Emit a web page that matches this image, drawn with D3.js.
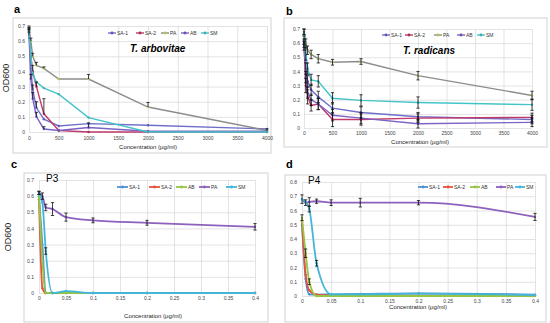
<!DOCTYPE html>
<html>
<head>
<meta charset="utf-8">
<script src="https://cdn.jsdelivr.net/npm/d3@7"></script>
<style>
  body { margin: 0; background: #fff; }
  svg { font-family: 'Liberation Sans', Arial, sans-serif; }
  .grid line { stroke: #dcdcdc; stroke-width: 0.8; }
  .grid .domain { display: none; }
  .tick text { fill: #444; font-size: 5px; }
  .frame { fill: none; stroke: #d2d2d2; stroke-width: 1; }
</style>
</head>
<body>
<svg width="550" height="323"></svg>
<script>
// concentrations (x values)
const concAB = [0, 31.25, 62.5, 125, 250, 500, 1000, 2000, 4000];
const concCD = [0, 0.00625, 0.0125, 0.025, 0.05, 0.1, 0.2, 0.4];

// tick labels
const ticksXAB = [0, 500, 1000, 1500, 2000, 2500, 3000, 3500, 4000];
const ticksXCD = [0, 0.05, 0.1, 0.15, 0.2, 0.25, 0.3, 0.35, 0.4];
const ticksY07 = [0, 0.1, 0.2, 0.3, 0.4, 0.5, 0.6, 0.7];
const ticksY08 = [0, 0.1, 0.2, 0.3, 0.4, 0.5, 0.6, 0.7, 0.8];

const namesAB = ['SA-1', 'SA-2', 'PA', 'AB', 'SM'];
const namesCD = ['SA-1', 'SA-2', 'AB', 'PA', 'SM'];

// a: T. arbovitae (upper error only)
const arbSA1 = [0.66, 0.42, 0.28, 0.16, 0.085, 0.04, 0.055, 0.045, 0.02];
const arbSA2 = [0.67, 0.5, 0.4, 0.3, 0.12, 0.01, 0, 0, 0];
const arbPA = [0.68, 0.6, 0.5, 0.44, 0.42, 0.35, 0.35, 0.165, 0.01];
const arbAB = [0.64, 0.35, 0.22, 0.1, 0.02, 0.01, 0.03, 0.005, 0.005];
const arbSM = [0.67, 0.5, 0.38, 0.33, 0.29, 0.25, 0.095, 0, 0];
const arbSA1Err = [0.02, 0, 0.03, 0.04, 0, 0, 0, 0, 0];
const arbSA2Err = [0.01, 0, 0.04, 0.03, 0.1, 0, 0, 0, 0];
const arbPAErr = [0.02, 0.02, 0.02, 0.02, 0.01, 0, 0.03, 0.03, 0.01];
const arbABErr = [0.02, 0.03, 0.04, 0.03, 0.015, 0, 0.03, 0, 0];
const arbSMErr = [0.02, 0, 0, 0, 0, 0, 0, 0, 0];

// b: T. radicans
const radSA1 = [0.62, 0.42, 0.33, 0.27, 0.22, 0.14, 0.11, 0.08, 0.06];
const radSA2 = [0.6, 0.3, 0.22, 0.16, 0.17, 0.06, 0.06, 0.07, 0.075];
const radPA = [0.68, 0.6, 0.55, 0.52, 0.49, 0.465, 0.47, 0.37, 0.23];
const radAB = [0.58, 0.36, 0.25, 0.2, 0.17, 0.09, 0.07, 0.03, 0.04];
const radSM = [0.68, 0.52, 0.42, 0.34, 0.33, 0.21, 0.195, 0.18, 0.165];
const radSA1Err = [0.03, 0.04, 0.04, 0.04, 0.04, 0.04, 0.04, 0.03, 0.03];
const radSA2Err = [0.03, 0.05, 0.05, 0.04, 0.04, 0.05, 0.04, 0.03, 0.03];
const radPAErr = [0.02, 0.03, 0.03, 0.03, 0.03, 0.02, 0.02, 0.03, 0.03];
const radABErr = [0.03, 0.04, 0.04, 0.04, 0.04, 0.04, 0.04, 0.03, 0.03];
const radSMErr = [0.02, 0.04, 0.04, 0.04, 0.04, 0.04, 0.04, 0.04, 0.04];

// c: P3
const p3SA1 = [0.6, 0.3, 0, 0, 0, 0, 0, 0];
const p3SA2 = [0.58, 0.03, 0, 0, 0, 0, 0, 0];
const p3AB = [0.6, 0.2, 0, 0, 0, 0, 0, 0];
const p3PA = [0.62, 0.6, 0.53, 0.52, 0.47, 0.45, 0.435, 0.41];
const p3SM = [0.62, 0.56, 0.26, 0, 0.012, 0, 0, 0];
const p3SA1Err = [0, 0, 0, 0, 0, 0, 0, 0];
const p3SA2Err = [0, 0, 0, 0, 0, 0, 0, 0];
const p3ABErr = [0, 0, 0, 0, 0, 0, 0, 0];
const p3PAErr = [0.01, 0.02, 0.02, 0.04, 0.025, 0.015, 0.015, 0.02];
const p3SMErr = [0.01, 0, 0.02, 0, 0, 0, 0, 0];

// d: P4
const p4SA1 = [0.5, 0.12, 0.012, 0.01, 0.012, 0.014, 0.018, 0.01];
const p4SA2 = [0.52, 0.15, 0.04, 0.01, 0.004, 0.002, 0.002, 0.002];
const p4AB = [0.55, 0.3, 0.1, 0, 0, 0, 0, 0];
const p4PA = [0.68, 0.655, 0.66, 0.665, 0.655, 0.655, 0.655, 0.555];
const p4SM = [0.68, 0.66, 0.61, 0.23, 0.012, 0.012, 0.016, 0.006];
const p4SA1Err = [0, 0, 0, 0, 0, 0, 0, 0];
const p4SA2Err = [0, 0, 0, 0, 0, 0, 0, 0];
const p4ABErr = [0.02, 0.03, 0.02, 0, 0, 0, 0, 0];
const p4PAErr = [0.03, 0.02, 0.03, 0.015, 0.02, 0.03, 0.015, 0.025];
const p4SMErr = [0, 0, 0.02, 0.02, 0, 0, 0, 0];

const colorsAB = { 'SA-1': '#6f6fc9', 'SA-2': '#c03a6b', PA: '#8c8c8c', AB: '#7d63c4', SM: '#45c4c8' };
const markerAB = { 'SA-1': '#5a5ab8', 'SA-2': '#a82a58', PA: '#a8c85a', AB: '#6a50b0', SM: '#3ab0b4' };
const colorsCD = { 'SA-1': '#4e91d2', 'SA-2': '#e5533d', AB: '#95c447', PA: '#8d61bd', SM: '#43b6d8' };

const svg = d3.select('svg');

const fmt = v => String(+v.toFixed(2));

const drawPanel = p => {
	const g = svg.append('g');
	g.append('rect').attr('class', 'frame')
		.attr('x', p.frame[0]).attr('y', p.frame[1]).attr('width', p.frame[2]).attr('height', p.frame[3]);

	const xScale = d3.scaleLinear().domain(p.xDomain).range([p.x0, p.x1]);
	const yScale = d3.scaleLinear().domain(p.yDomain).range([p.y0, p.y1]);

	g.append('g').attr('class', 'grid')
		.attr('transform', `translate(0,${p.y0})`)
		.call(d3.axisBottom(xScale).tickValues(p.xTicks).tickFormat(fmt)
			.tickSize(-(p.y0 - p.y1)).tickPadding(p.xPad));

	g.append('g').attr('class', 'grid')
		.attr('transform', `translate(${p.x0},0)`)
		.call(d3.axisLeft(yScale).tickValues(p.yTicks).tickFormat(fmt)
			.tickSize(-(p.x1 - p.x0)).tickPadding(p.yPad));

	const line = d3.line()
		.x(d => xScale(d.x))
		.y(d => yScale(d.y))
		.curve(p.smooth ? d3.curveMonotoneX : d3.curveLinear);

	const series = p.names.map((name, i) => ({
		name,
		values: p.xs.map((x, j) => ({ x, y: p.values[i][j], e: p.errors[i][j] })),
	}));

	series.forEach(s => {
		g.append('path')
			.attr('d', line(s.values))
			.attr('fill', 'none')
			.attr('stroke', p.colors[s.name])
			.attr('stroke-width', p.lineWidth);

		g.selectAll(null).data(s.values).enter().append('circle')
			.attr('cx', d => xScale(d.x))
			.attr('cy', d => yScale(d.y))
			.attr('r', p.markerR)
			.attr('fill', p.markers ? p.markers[s.name] : p.colors[s.name]);
	});

	// error bars
	series.forEach(s => {
		const bars = g.selectAll(null).data(s.values.filter(d => d.e > 0)).enter().append('g')
			.attr('stroke', '#111').attr('stroke-width', 0.8);
		bars.append('line')
			.attr('x1', d => xScale(d.x)).attr('x2', d => xScale(d.x))
			.attr('y1', d => yScale(p.upperOnly ? d.y : d.y - d.e))
			.attr('y2', d => yScale(d.y + d.e));
		bars.append('line')
			.attr('x1', d => xScale(d.x) - 1.6).attr('x2', d => xScale(d.x) + 1.6)
			.attr('y1', d => yScale(d.y + d.e)).attr('y2', d => yScale(d.y + d.e));
		if (!p.upperOnly) {
			bars.append('line')
				.attr('x1', d => xScale(d.x) - 1.6).attr('x2', d => xScale(d.x) + 1.6)
				.attr('y1', d => yScale(d.y - d.e)).attr('y2', d => yScale(d.y - d.e));
		}
	});

	// legend
	p.names.forEach((name, i) => {
		const lx = p.legendX[i];
		g.append('line')
			.attr('x1', lx).attr('x2', lx + p.legendLine)
			.attr('y1', p.legendY).attr('y2', p.legendY)
			.attr('stroke', p.colors[name]).attr('stroke-width', p.lineWidth);
		g.append('circle')
			.attr('cx', lx + p.legendLine / 2).attr('cy', p.legendY).attr('r', 1.4)
			.attr('fill', p.markers ? p.markers[name] : p.colors[name]);
		g.append('text')
			.attr('x', lx + p.legendLine + 1).attr('y', p.legendY)
			.attr('dy', '0.35em').attr('font-size', 5).attr('fill', '#333')
			.text(name);
	});

	// labels
	g.append('text').attr('x', p.letter[0]).attr('y', p.letter[1])
		.attr('font-size', 11).attr('font-weight', 'bold').text(p.letterText);

	if (p.title) {
		g.append('text').attr('x', p.title[0]).attr('y', p.title[1])
			.attr('font-size', p.title[3]).attr('font-weight', p.title[4])
			.attr('font-style', p.title[5]).text(p.title[2]);
	}

	g.append('text').attr('x', (p.xLabel[0])).attr('y', p.xLabel[1])
		.attr('text-anchor', 'middle').attr('font-size', 6).attr('fill', '#222')
		.text('Concentration (μg/ml)');

	if (p.yLabel) {
		g.append('text')
			.attr('transform', `translate(${p.yLabel[0]},${p.yLabel[1]}) rotate(-90)`)
			.attr('text-anchor', 'middle').attr('font-size', 9).attr('fill', '#222')
			.text('OD600');
	}
};

drawPanel({
	frame: [13, 18, 258, 135],
	x0: 29, x1: 267, y0: 132, y1: 26,
	xDomain: [0, 4000], yDomain: [0, 0.7],
	xTicks: ticksXAB, yTicks: ticksY07, xPad: 4, yPad: 4,
	xs: concAB, names: namesAB,
	values: [arbSA1, arbSA2, arbPA, arbAB, arbSM],
	errors: [arbSA1Err, arbSA2Err, arbPAErr, arbABErr, arbSMErr],
	colors: colorsAB, markers: markerAB, lineWidth: 1.4, markerR: 1.2,
	upperOnly: true, smooth: false,
	legendX: [108, 136, 161, 181, 201], legendY: 33, legendLine: 8,
	letter: [14, 13], letterText: 'a',
	title: [130, 52, 'T. arbovitae', 10, 'bold', 'italic'],
	xLabel: [148, 149], yLabel: [9, 78],
});

drawPanel({
	frame: [284, 18, 263, 129],
	x0: 304, x1: 532, y0: 128, y1: 29,
	xDomain: [0, 4000], yDomain: [0, 0.7],
	xTicks: ticksXAB, yTicks: ticksY07, xPad: 3, yPad: 4,
	xs: concAB, names: namesAB,
	values: [radSA1, radSA2, radPA, radAB, radSM],
	errors: [radSA1Err, radSA2Err, radPAErr, radABErr, radSMErr],
	colors: colorsAB, markers: markerAB, lineWidth: 1.4, markerR: 1.2,
	upperOnly: false, smooth: false,
	legendX: [382, 405, 434, 457, 477], legendY: 35, legendLine: 8,
	letter: [286, 15], letterText: 'b',
	title: [403, 54, 'T. radicans', 10, 'bold', 'italic'],
	xLabel: [420, 144], yLabel: null,
});

drawPanel({
	frame: [24, 173, 244, 149],
	x0: 39, x1: 255, y0: 293, y1: 180,
	xDomain: [0, 0.4], yDomain: [0, 0.7],
	xTicks: ticksXCD, yTicks: ticksY07, xPad: 3, yPad: 5,
	xs: concCD, names: namesCD,
	values: [p3SA1, p3SA2, p3AB, p3PA, p3SM],
	errors: [p3SA1Err, p3SA2Err, p3ABErr, p3PAErr, p3SMErr],
	colors: colorsCD, markers: null, lineWidth: 1.8, markerR: 1.2,
	upperOnly: false, smooth: true,
	legendX: [117, 149, 176, 199, 226], legendY: 187, legendLine: 11,
	letter: [11, 168], letterText: 'c',
	title: [46, 182, 'P3', 10, 'normal', 'normal'],
	xLabel: [153, 318], yLabel: [11, 237],
});

drawPanel({
	frame: [285, 175, 261, 147],
	x0: 302, x1: 535, y0: 296, y1: 182,
	xDomain: [0, 0.4], yDomain: [0, 0.8],
	xTicks: ticksXCD, yTicks: ticksY08, xPad: 3, yPad: 5,
	xs: concCD, names: namesCD,
	values: [p4SA1, p4SA2, p4AB, p4PA, p4SM],
	errors: [p4SA1Err, p4SA2Err, p4ABErr, p4PAErr, p4SMErr],
	colors: colorsCD, markers: null, lineWidth: 1.8, markerR: 1.2,
	upperOnly: false, smooth: true,
	legendX: [418, 443, 470, 496, 515], legendY: 187, legendLine: 10,
	letter: [286, 168], letterText: 'd',
	title: [308, 184, 'P4', 10, 'normal', 'normal'],
	xLabel: [418, 309], yLabel: null,
});
</script>
</body>
</html>
